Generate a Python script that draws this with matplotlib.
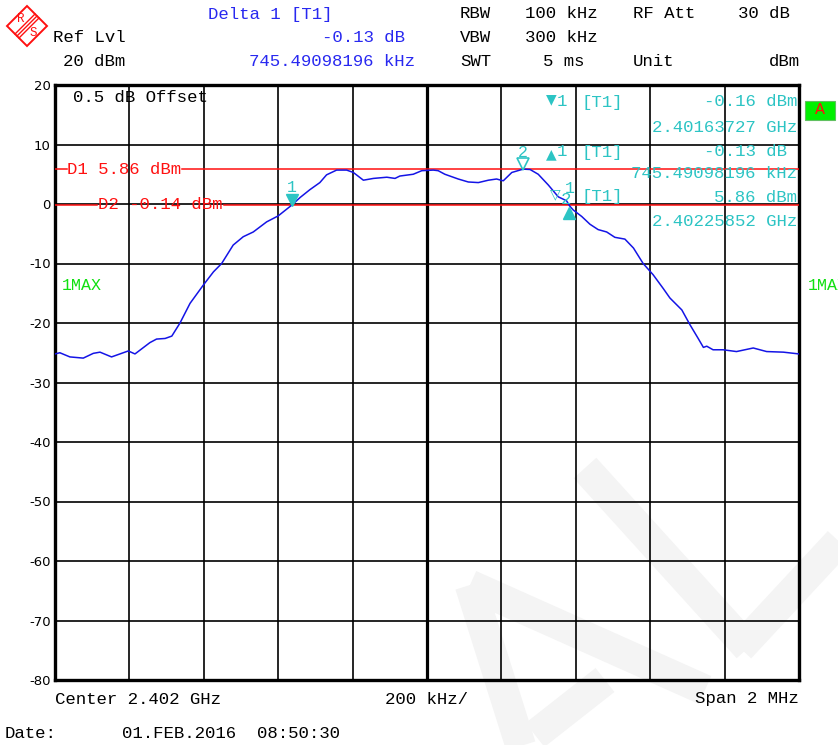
"""Spectrum analyser screenshot (R&S style): occupied band around 2.402 GHz
with display lines D1/D2 and marker / delta marker readouts."""
import matplotlib
matplotlib.use('Agg')
import matplotlib.pyplot as plt
from matplotlib.lines import Line2D
from matplotlib.patches import Polygon, Rectangle
from matplotlib.transforms import offset_copy

W, H = 838, 745

# trace 1 (max hold), frequency in MHz, level in dBm
freq_mhz = [2401.000, 2401.013, 2401.040, 2401.076, 2401.103, 2401.121, 2401.152,
            2401.179, 2401.197, 2401.215, 2401.255, 2401.273, 2401.296, 2401.314,
            2401.336, 2401.363, 2401.399, 2401.426, 2401.448, 2401.479, 2401.506,
            2401.533, 2401.569, 2401.600, 2401.637, 2401.659, 2401.685, 2401.712,
            2401.730, 2401.757, 2401.784, 2401.802, 2401.829, 2401.856, 2401.892,
            2401.914, 2401.927, 2401.963, 2401.986, 2402.017, 2402.030, 2402.048,
            2402.084, 2402.111, 2402.138, 2402.165, 2402.187, 2402.205, 2402.228,
            2402.2585, 2402.277, 2402.299, 2402.326, 2402.353, 2402.375, 2402.383,
            2402.393, 2402.416, 2402.438, 2402.460, 2402.483, 2402.505, 2402.532,
            2402.555, 2402.581, 2402.608, 2402.635, 2402.653, 2402.685, 2402.707,
            2402.729, 2402.743, 2402.752, 2402.769, 2402.796, 2402.832, 2402.877,
            2402.913, 2402.958, 2403.000]
level_dbm = [-25.2, -25.0, -25.7, -25.9, -25.1, -24.9, -25.7,
             -25.1, -24.7, -25.2, -23.3, -22.7, -22.6, -22.2,
             -20.0, -16.7, -13.6, -11.4, -10.0, -6.9, -5.5,
             -4.7, -3.0, -2.0, -0.16, 1.1, 2.4, 3.6,
             4.9, 5.7, 5.7, 5.3, 4.0, 4.3, 4.5,
             4.3, 4.7, 5.0, 5.6, 5.7, 5.6, 5.0,
             4.2, 3.7, 3.6, 4.0, 4.2, 3.9, 5.3,
             5.86, 5.8, 5.0, 3.2, 1.2, 0.55, -0.29,
             -1.0, -2.1, -3.4, -4.3, -4.7, -5.6, -5.9,
             -7.4, -10.0, -11.9, -14.2, -15.8, -17.8, -20.3,
             -22.6, -24.1, -23.9, -24.5, -24.5, -24.8, -24.2,
             -24.8, -24.9, -25.2]

# display lines
d1_level = 5.86
d2_level = -0.14

# markers
m1_freq, m1_level = 2401.63727, -0.16
m2_freq, m2_level = 2402.25852, 5.86
dm_freq, dm_level = 2401.63727 + 0.74549098, -0.29

y_ticks = [20, 10, 0, -10, -20, -30, -40, -50, -60, -70, -80]
x_ticks = [2401.0 + 0.2 * i for i in range(11)]

MONO = ['Liberation Mono', 'DejaVu Sans Mono']
BLUE_TXT = '#2828f0'
CYAN = '#2cc4c4'
RED = '#ff1010'
GREEN = '#10e010'


def fx(x):
    return x / W


def fy(y):
    return 1 - y / H


fig = plt.figure(figsize=(W / 100, H / 100), dpi=100)


def T(x, y, s, ha='left', color='black', size=12.5, va='center', family=MONO):
    fig.text(fx(x), fy(y), s, ha=ha, va=va, color=color, fontsize=size,
             family=family)


# faint watermark in lower right
wm = '#f4f4f4'
for (x0, y0), (x1, y1) in [((470, 585), (522, 750)), ((470, 585), (705, 690)),
                           ((535, 735), (605, 680)), ((585, 468), (748, 648)),
                           ((740, 648), (845, 535))]:
    fig.add_artist(Line2D([fx(x0), fx(x1)], [fy(y0), fy(y1)], color=wm, lw=22,
                          solid_capstyle='butt', transform=fig.transFigure,
                          zorder=-1))

ax = fig.add_axes([fx(55), fy(680), fx(799) - fx(55), fy(85) - fy(680)])
ax.set_facecolor('none')
ax.set_xlim(2401.0, 2403.0)
ax.set_ylim(-80, 20)

# graticule
for xv in x_ticks[1:-1]:
    ax.axvline(xv, color='black', lw=2.3 if abs(xv - 2402.0) < 1e-6 else 1.2,
               zorder=1)
for yv in y_ticks[1:-1]:
    ax.axhline(yv, color='black', lw=1.2, zorder=1)
for sp in ax.spines.values():
    sp.set_linewidth(2.4)
ax.set_xticks([])
ax.set_yticks(y_ticks)
ax.set_yticklabels([str(v) for v in y_ticks], family='DejaVu Sans', fontsize=9.5)
ax.tick_params(axis='y', length=0, pad=3)

# display lines D1 / D2 with their labels breaking the line
ax.plot([2401.0, 2401.032], [d1_level] * 2, color=RED, lw=1.1, zorder=3)
ax.plot([2401.341, 2403.0], [d1_level] * 2, color=RED, lw=1.1, zorder=3)
ax.plot([2401.0, 2401.113], [d2_level] * 2, color=RED, lw=1.1, zorder=3)
ax.plot([2401.454, 2403.0], [d2_level] * 2, color=RED, lw=1.1, zorder=3)
ax.text(2401.033, d1_level, 'D1 5.86 dBm', color=RED, fontsize=12.5,
        family=MONO, va='center', ha='left')
ax.text(2401.115, d2_level, 'D2 -0.14 dBm', color=RED, fontsize=12.5,
        family=MONO, va='center', ha='left')

# trace
ax.plot(freq_mhz, level_dbm, color='#1414e6', lw=1.1, zorder=4)

# markers on the trace
up4 = offset_copy(ax.transData, fig=fig, x=0, y=5, units='dots')
dn6 = offset_copy(ax.transData, fig=fig, x=0, y=-7, units='dots')
ax.plot([m1_freq], [m1_level], 'v', color=CYAN, ms=9, transform=up4, zorder=5)
ax.plot([m2_freq], [m2_level], 'v', mfc='white', mec=CYAN, mew=1.2, ms=8,
        transform=up4, zorder=5)
ax.plot([dm_freq], [dm_level], '^', color=CYAN, ms=9, transform=dn6, zorder=5)
for f, lv, lab in [(m1_freq, m1_level, '1'), (m2_freq, m2_level, '2'),
                   (dm_freq, dm_level, '1')]:
    ax.annotate(lab, (f, lv), xytext=(0, 17), textcoords='offset pixels',
                ha='center', va='center', color=CYAN, fontsize=12, family=MONO,
                zorder=6)

# in-graticule annotations
T(73, 98, '0.5 dB Offset')
T(62, 285, '1MAX', color=GREEN, size=12)
T(808, 285, '1MAX', color=GREEN, size=12)
fig.add_artist(Rectangle((fx(805), fy(120)), fx(30), 19 / H, facecolor='#00f000',
                         edgecolor='#60c060', lw=0.8, transform=fig.transFigure))
T(820, 110, 'A', ha='center', color=RED, size=12, va='center')

# marker readout panel
T(551, 99, '\u25bc', color=CYAN, size=10, ha='center', family='DejaVu Sans')
T(557, 102, '1', color=CYAN)
T(581, 102, '[T1]', color=CYAN)
T(797, 102, '-0.16 dBm', ha='right', color=CYAN)
T(797, 127, '2.40163727 GHz', ha='right', color=CYAN)
T(551, 154, '\u25b2', color=CYAN, size=10, ha='center', family='DejaVu Sans')
T(557, 152, '1', color=CYAN)
T(581, 152, '[T1]', color=CYAN)
T(787, 152, '-0.13 dB', ha='right', color=CYAN)
T(797, 173, '745.49098196 kHz', ha='right', color=CYAN)
T(555, 194, '\u25bd', color=CYAN, size=10, ha='center', family='DejaVu Sans')
T(561, 199, '2', color=CYAN)
T(581, 197, '[T1]', color=CYAN)
T(797, 197, '5.86 dBm', ha='right', color=CYAN)
T(797, 222, '2.40225852 GHz', ha='right', color=CYAN)

# header
T(208, 14, 'Delta 1 [T1]', color=BLUE_TXT)
T(405, 38, '-0.13 dB', ha='right', color=BLUE_TXT)
T(415, 62, '745.49098196 kHz', ha='right', color=BLUE_TXT)
T(53, 38, 'Ref Lvl')
T(63, 62, '20 dBm')
T(460, 14, 'RBW')
T(525, 14, '100 kHz')
T(633, 14, 'RF Att')
T(790, 14, '30 dB', ha='right')
T(460, 38, 'VBW')
T(525, 38, '300 kHz')
T(460, 62, 'SWT')
T(543, 62, '5 ms')
T(633, 62, 'Unit')
T(800, 62, 'dBm', ha='right')

# R&S logo
cx, cy, r = 27, 26, 20
fig.add_artist(Polygon([(fx(cx - r), fy(cy)), (fx(cx), fy(cy - r)),
                        (fx(cx + r), fy(cy)), (fx(cx), fy(cy + r))],
                       closed=True, fill=False, edgecolor=RED, lw=1.4,
                       transform=fig.transFigure))
for d in (-2, 0, 2):
    fig.add_artist(Line2D([fx(cx - 10 + d), fx(cx + 10 + d)],
                          [fy(cy + 10 + d), fy(cy - 10 + d)], color=RED, lw=1.0,
                          transform=fig.transFigure))
T(cx - 6, cy - 7, 'R', color=RED, size=9, ha='center')
T(cx + 6, cy + 7, 'S', color=RED, size=9, ha='center')

# footer
T(55, 699, 'Center 2.402 GHz')
T(426, 699, '200 kHz/', ha='center')
T(799, 699, 'Span 2 MHz', ha='right')
T(5, 733, 'Date:')
T(122, 733, '01.FEB.2016')
T(257, 733, '08:50:30')

fig.savefig('out.png', dpi=100)
